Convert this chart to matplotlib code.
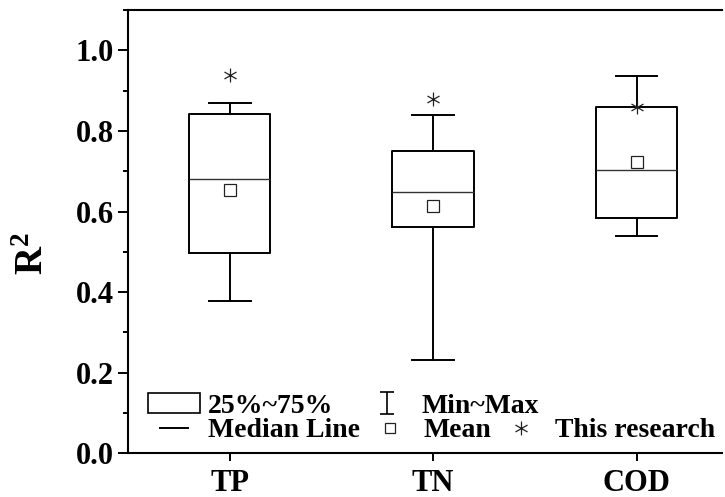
import numpy as np
import matplotlib
matplotlib.use("Agg")
import matplotlib.pyplot as plt
from matplotlib.path import Path
from matplotlib.lines import Line2D
from matplotlib.patches import Rectangle
from matplotlib.ticker import MultipleLocator

plt.rcParams['font.family'] = ['Liberation Serif', 'DejaVu Serif']
plt.rcParams['font.weight'] = 'bold'
plt.rcParams['mathtext.fontset'] = 'custom'
plt.rcParams['mathtext.rm'] = 'Liberation Serif:bold'
plt.rcParams['mathtext.bf'] = 'Liberation Serif:bold'

# data
groups = ['TP', 'TN', 'COD']
q1 = [0.498, 0.561, 0.585]
median = [0.681, 0.649, 0.704]
q3 = [0.841, 0.750, 0.859]
whis_lo = [0.378, 0.231, 0.540]
whis_hi = [0.869, 0.840, 0.936]
means = [0.653, 0.614, 0.722]
this_research = [0.938, 0.878, 0.860]

# custom markers
star = Path([(0, -1), (0, 1),
             (-0.866, -0.5), (0.866, 0.5),
             (-0.866, 0.5), (0.866, -0.5)],
            [Path.MOVETO, Path.LINETO, Path.MOVETO, Path.LINETO, Path.MOVETO, Path.LINETO])
whisk = Path([(-0.6, -1), (0.6, -1), (0, -1), (0, 1), (-0.6, 1), (0.6, 1)],
             [Path.MOVETO, Path.LINETO, Path.MOVETO, Path.LINETO, Path.MOVETO, Path.LINETO])

fig = plt.figure(figsize=(7.25, 4.97), dpi=100)
ax = fig.add_axes([0.1766, 0.0879, 0.8193, 0.892])

stats = []
for i, g in enumerate(groups):
    stats.append(dict(label=g, q1=q1[i], med=median[i], q3=q3[i],
                      whislo=whis_lo[i], whishi=whis_hi[i], mean=means[i], fliers=[]))
pos = np.arange(1, len(groups) + 1)
ax.bxp(stats, positions=pos, widths=0.4, capwidths=0.205, showmeans=True,
       boxprops=dict(color='black', linewidth=1.4),
       whiskerprops=dict(color='black', linewidth=1.4),
       capprops=dict(color='black', linewidth=1.4),
       medianprops=dict(color='#333333', linewidth=1.0),
       meanprops=dict(marker='s', markerfacecolor='white', markeredgecolor='#222222',
                      markersize=8, markeredgewidth=0.9))
ax.plot(pos, this_research, ls='none', marker=star, markersize=10,
        color='#222222', markeredgewidth=0.9, zorder=5)

ax.set_xlim(0.5, 3.42)
ax.set_ylim(0, 1.1)
ax.set_xticks(pos)
ax.set_xticklabels(groups)
ax.yaxis.set_major_locator(MultipleLocator(0.2))
ax.yaxis.set_minor_locator(MultipleLocator(0.1))
ax.yaxis.set_major_formatter(plt.FormatStrFormatter('%.1f'))
ax.tick_params(axis='both', which='major', direction='out', length=7, width=1.4,
               labelsize=22, pad=3)
ax.tick_params(axis='y', which='minor', direction='out', length=3.6, width=1.4)
ax.tick_params(axis='x', length=6, pad=5)
ax.spines['right'].set_visible(False)
for s in ['left', 'top', 'bottom']:
    ax.spines[s].set_linewidth(1.5)

ax.set_ylabel(r'$\mathbf{R^2}$', fontsize=28)
ax.yaxis.set_label_coords(-0.128, 0.45)

prop = dict(family='Liberation Serif', weight='bold', size=20)
h_box = Rectangle((0, 0), 1, 1, facecolor='white', edgecolor='black', linewidth=1.2)
h_minmax = Line2D([], [], ls='none', marker=whisk, markersize=16, color='black',
                  markeredgewidth=1.2)
h_med = Line2D([], [], ls='none', marker='_', markersize=22, color='black',
               markeredgewidth=1.4)
h_mean = Line2D([], [], ls='none', marker='s', markersize=6.5, markerfacecolor='white',
                markeredgecolor='#222222', markeredgewidth=0.9)
h_star = Line2D([], [], ls='none', marker=star, markersize=10, color='#222222',
                markeredgewidth=0.9)

leg1 = ax.legend([h_box, h_minmax], ['25%~75%', 'Min~Max'], ncol=2, prop=prop,
                 frameon=False, loc='center left', bbox_to_anchor=(0.0337, 0.107),
                 borderpad=0, borderaxespad=0, handlelength=1.87, handleheight=0.7,
                 handletextpad=0.29, columnspacing=1.0, numpoints=1)
ax.add_artist(leg1)
ax.legend([h_med, h_mean, h_star], ['Median Line', 'Mean', 'This research'], ncol=3,
          prop=prop, frameon=False, loc='center left', bbox_to_anchor=(0.0337, 0.051),
          borderpad=0, borderaxespad=0, handlelength=1.87, handleheight=0.7,
          handletextpad=0.29, columnspacing=0.13, numpoints=1)

fig.savefig('out.png', dpi=100)
